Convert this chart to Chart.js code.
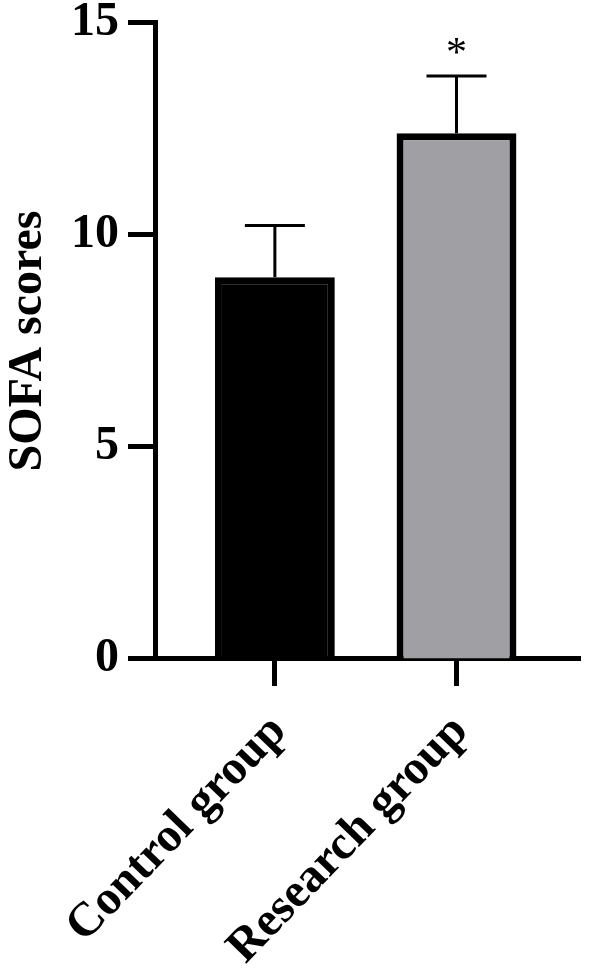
<!DOCTYPE html>
<html>
<head>
<meta charset="utf-8">
<script src="https://cdn.jsdelivr.net/npm/chart.js@4.4.1/dist/chart.umd.min.js"></script>
<style>
  html, body { margin: 0; padding: 0; background: #fff; }
  canvas { display: block; }
</style>
</head>
<body>
<canvas id="chart" width="590" height="968"></canvas>
<script>
// data
const categories = ["Control group", "Research group"];
const means = [9.0, 12.4];
const sds = [1.22, 1.35];
const marks = ["", "*"];
const yTicks = [0, 5, 10, 15];

const fillColors = ["#000000", "#a09fa4"];
const serif = "'Liberation Serif', 'Times New Roman', serif";

// error bars + significance stars
const errorBars = {
  id: "errorBars",
  afterDatasetsDraw(chart) {
    const { ctx, scales: { x, y } } = chart;
    ctx.save();
    ctx.strokeStyle = "#000";
    ctx.lineWidth = 3;
    means.forEach((m, i) => {
      const px = x.getPixelForValue(i + 1);
      const top = y.getPixelForValue(m + sds[i]);
      const base = y.getPixelForValue(m);
      ctx.beginPath();
      ctx.moveTo(px, base);
      ctx.lineTo(px, top);
      ctx.moveTo(px - 30, top);
      ctx.lineTo(px + 30, top);
      ctx.stroke();
      if (marks[i]) {
        ctx.fillStyle = "#000";
        ctx.font = "42px " + serif;
        ctx.textAlign = "center";
        ctx.textBaseline = "alphabetic";
        ctx.fillText(marks[i], px, top - 10);
      }
    });
    ctx.restore();
  }
};

new Chart(document.getElementById("chart"), {
  type: "bar",
  data: {
    datasets: [{
      data: means.map((v, i) => ({ x: i + 1, y: v })),
      backgroundColor: fillColors,
      borderColor: "#000",
      borderWidth: 7,
      borderSkipped: "bottom",
      barPercentage: 0.66,
      categoryPercentage: 1
    }]
  },
  options: {
    responsive: false,
    animation: false,
    layout: { padding: { top: 0, right: 10, left: 0, bottom: 0 } },
    plugins: { legend: { display: false }, tooltip: { enabled: false } },
    scales: {
      x: {
        type: "linear",
        min: 0.34,
        max: 2.68,
        offset: false,
        afterBuildTicks: (axis) => { axis.ticks = categories.map((_, i) => ({ value: i + 1 })); },
        afterFit: (axis) => { axis.height = 309; },
        ticks: {
          autoSkip: false,
          minRotation: 46,
          maxRotation: 46,
          padding: 18,
          labelOffset: 4,
          color: "#000",
          font: { family: serif, size: 48, weight: "bold" },
          callback: (v) => categories[v - 1]
        },
        grid: { offset: false, drawOnChartArea: false, tickLength: 27, tickWidth: 5, tickColor: "#000" },
        border: { display: true, width: 5, color: "#000" }
      },
      y: {
        min: 0,
        max: 15,
        afterBuildTicks: (axis) => { axis.ticks = yTicks.map(v => ({ value: v })); },
        afterFit: (axis) => { axis.width = 155; },
        ticks: {
          padding: 9,
          color: "#000",
          font: { family: serif, size: 48, weight: "bold", lineHeight: 0.58 }
        },
        title: {
          display: true,
          text: "SOFA scores",
          color: "#000",
          padding: { top: 0, bottom: 0 },
          font: { family: serif, size: 48, weight: "bold" }
        },
        grid: { drawOnChartArea: false, tickLength: 27, tickWidth: 5, tickColor: "#000" },
        border: { display: true, width: 5, color: "#000" }
      }
    }
  },
  plugins: [errorBars]
});
</script>
</body>
</html>
